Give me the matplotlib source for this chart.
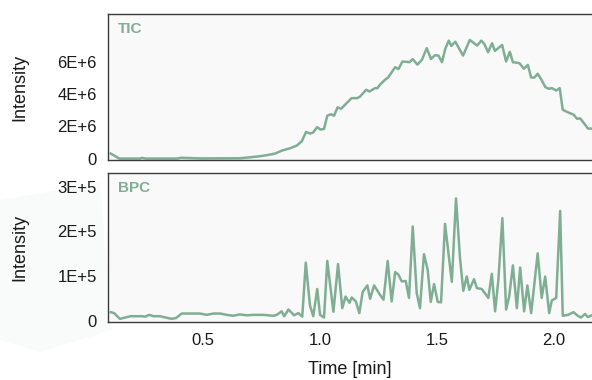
import matplotlib
matplotlib.use("Agg")
import matplotlib.pyplot as plt
from matplotlib.ticker import FuncFormatter
from matplotlib.patches import Polygon

plt.rcParams['font.family'] = ['Liberation Sans', 'DejaVu Sans']

### Data ###
# TIC trace, time in min, intensity in 1E+6
tic_time = [0.106, 0.142, 0.231, 0.238, 0.256, 0.316, 0.389, 0.406, 0.487, 0.658,
            0.729, 0.765, 0.808, 0.836, 0.872, 0.900, 0.922, 0.940, 0.959, 0.971,
            0.988, 1.002, 1.017, 1.031, 1.046, 1.060, 1.075, 1.090, 1.114, 1.135,
            1.159, 1.171, 1.197, 1.211, 1.235, 1.245, 1.256, 1.274, 1.292, 1.321,
            1.335, 1.352, 1.371, 1.382, 1.396, 1.416, 1.435, 1.456, 1.474, 1.491,
            1.506, 1.521, 1.535, 1.550, 1.561, 1.578, 1.611, 1.640, 1.671, 1.689,
            1.702, 1.718, 1.735, 1.747, 1.778, 1.795, 1.811, 1.824, 1.852, 1.871,
            1.888, 1.902, 1.916, 1.930, 1.946, 1.963, 1.977, 1.991, 2.009, 2.024,
            2.037, 2.056, 2.084, 2.098, 2.112, 2.145, 2.171]
tic_val = [0.31, 0.00, 0.00, 0.04, 0.00, 0.00, 0.00, 0.05, 0.01, 0.02,
           0.12, 0.19, 0.31, 0.49, 0.64, 0.80, 1.07, 1.65, 1.55, 1.63,
           1.95, 1.80, 1.84, 2.66, 2.75, 2.66, 3.18, 3.09, 3.45, 3.75,
           3.75, 3.85, 4.27, 4.16, 4.37, 4.37, 4.58, 4.84, 5.05, 5.67,
           5.55, 6.02, 6.00, 5.98, 6.17, 5.83, 6.12, 6.85, 6.18, 6.41,
           6.39, 5.98, 6.80, 7.32, 6.99, 7.25, 6.39, 7.36, 7.01, 7.32,
           7.11, 6.60, 7.16, 6.68, 7.05, 6.02, 6.62, 5.98, 5.92, 5.57,
           5.81, 5.03, 5.03, 5.26, 4.89, 4.43, 4.33, 4.37, 4.22, 4.37,
           3.03, 2.89, 2.72, 2.47, 2.49, 1.86, 1.86]

# BPC trace, time in min, intensity in 1E+5
bpc_time = [0.106, 0.120, 0.145, 0.167, 0.191, 0.238, 0.252, 0.271, 0.288, 0.316,
            0.366, 0.385, 0.409, 0.487, 0.516, 0.544, 0.573, 0.601, 0.629, 0.658,
            0.687, 0.715, 0.758, 0.800, 0.815, 0.836, 0.847, 0.865, 0.889, 0.907,
            0.924, 0.939, 0.957, 0.971, 0.988, 1.000, 1.017, 1.031, 1.057, 1.077,
            1.095, 1.109, 1.126, 1.135, 1.153, 1.168, 1.182, 1.202, 1.214, 1.231,
            1.256, 1.271, 1.289, 1.306, 1.321, 1.335, 1.349, 1.366, 1.380, 1.396,
            1.413, 1.427, 1.444, 1.460, 1.473, 1.487, 1.503, 1.517, 1.534, 1.563,
            1.581, 1.598, 1.612, 1.627, 1.638, 1.658, 1.670, 1.691, 1.719, 1.734,
            1.748, 1.762, 1.779, 1.795, 1.808, 1.824, 1.841, 1.855, 1.872, 1.886,
            1.902, 1.930, 1.947, 1.962, 1.979, 1.990, 2.009, 2.026, 2.037, 2.060,
            2.083, 2.101, 2.115, 2.132, 2.144, 2.162]
bpc_val = [0.19, 0.17, 0.04, 0.07, 0.10, 0.10, 0.09, 0.13, 0.10, 0.10,
           0.04, 0.06, 0.16, 0.16, 0.13, 0.16, 0.16, 0.13, 0.11, 0.14,
           0.12, 0.13, 0.13, 0.11, 0.13, 0.21, 0.10, 0.25, 0.12, 0.17,
           0.09, 1.30, 0.34, 0.10, 0.71, 0.13, 0.07, 1.34, 0.20, 1.27,
           0.28, 0.54, 0.40, 0.52, 0.43, 0.17, 0.64, 0.79, 0.49, 0.79,
           0.58, 0.47, 1.34, 0.43, 1.09, 1.03, 0.88, 0.89, 0.51, 2.11,
           0.62, 0.28, 1.49, 1.14, 0.42, 0.82, 0.42, 0.41, 2.17, 0.87,
           2.74, 1.40, 0.67, 0.99, 0.69, 0.93, 0.73, 0.71, 0.51, 1.05,
           0.21, 0.92, 2.30, 0.25, 0.54, 1.24, 0.28, 1.19, 0.21, 0.79,
           0.17, 1.51, 0.51, 0.99, 0.17, 0.45, 0.51, 2.46, 0.11, 0.13,
           0.19, 0.11, 0.07, 0.15, 0.08, 0.12]

tic_ticks = [0, 2e6, 4e6, 6e6]
bpc_ticks = [0, 1e5, 2e5, 3e5]
x_ticks = [0.5, 1.0, 1.5, 2.0]

### Style ###
c_Line = '#7fae94'
c_Spine = '#3a3a3a'
c_Text = '#1a1a1a'

def sci_fmt(v, pos):
    if v == 0:
        return '0'
    exp = len(str(int(abs(v)))) - 1
    return '{:g}E+{}'.format(v / 10**exp, exp)

fig = plt.figure(figsize=(5.92, 3.80), dpi=100)
fig.patch.set_facecolor('white')

# faint background shape on the left
fig.patches.append(Polygon([[0, 1 - 200/380], [100/592, 1 - 183/380], [112/592, 1 - 330/380],
                            [40/592, 1 - 352/380], [0, 1 - 340/380]],
                           closed=True, transform=fig.transFigure, facecolor='#f9fafa',
                           edgecolor='none', zorder=-5))

ax1 = fig.add_axes([108/592, 1 - 160.5/380, 484/592, 146.5/380])
ax2 = fig.add_axes([108/592, 1 - 322/380, 484/592, 149/380])

## Draw lines
ax1.plot(tic_time, [v * 1e6 for v in tic_val], color=c_Line, lw=1.8)
ax2.plot(bpc_time, [v * 1e5 for v in bpc_val], color=c_Line, lw=1.8)

ax1.set_ylim(-0.12e6, 8.97e6)
ax2.set_ylim(-0.03e5, 3.31e5)

for ax, ticks, name in [(ax1, tic_ticks, 'TIC'), (ax2, bpc_ticks, 'BPC')]:
    ax.set_xlim(0.094, 2.162)
    ax.set_facecolor('#f9f9f9')
    ax.set_yticks(ticks)
    ax.yaxis.set_major_formatter(FuncFormatter(sci_fmt))
    ax.tick_params(length=0, labelsize=12, colors=c_Text, pad=8)
    ax.spines['right'].set_visible(False)
    for s in ['left', 'top', 'bottom']:
        ax.spines[s].set_color(c_Spine)
        ax.spines[s].set_linewidth(1.0)
    ax.set_ylabel('Intensity', fontsize=13, color=c_Text)
    ax.yaxis.set_label_coords(-0.165, 0.5)
    ax.text(0.02, 0.9, name, transform=ax.transAxes, fontsize=11, fontweight='bold',
            color=c_Line, va='center', ha='left')

ax1.set_xticks([])
ax2.set_xticks(x_ticks)
ax2.set_xticklabels(['{:.1f}'.format(t) for t in x_ticks])
ax2.set_xlabel('Time [min]', fontsize=13, color=c_Text, labelpad=9)

fig.savefig('out.png', dpi=100)
